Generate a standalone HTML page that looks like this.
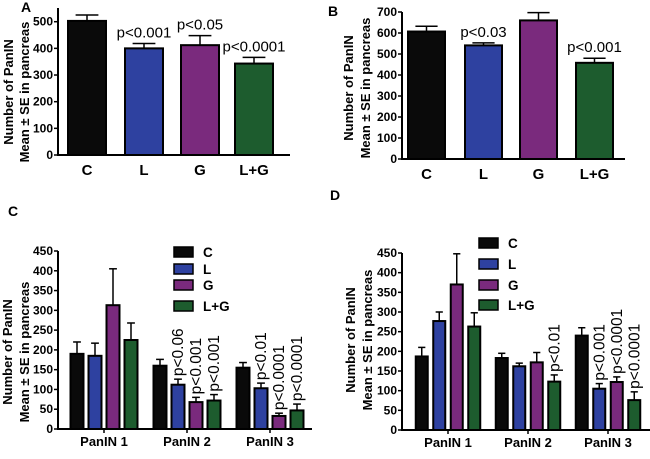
<!DOCTYPE html>
<html><head><meta charset="utf-8"><style>
body{margin:0;background:#fff;}
svg{display:block;font-family:"Liberation Sans",Arial,sans-serif;}
</style></head><body>
<svg id="fig" width="650" height="459"></svg>
<script>
const colors=["#0a0a0a","#2e41a0","#7a2a7d","#1d5c2e"];
const seriesNames=["C","L","G","L+G"];
// Panel A
const aCats=["C","L","G","L+G"];
const aMeans=[503,400,412,343];
const aErr=[525,418,448,366];
const aP=["","p<0.001","p<0.05","p<0.0001"];
const aTicks=[0,100,200,300,400,500];
// Panel B
const bCats=["C","L","G","L+G"];
const bMeans=[607,541,660,458];
const bErr=[632,553,697,480];
const bP=["","p<0.03","","p<0.001"];
const bTicks=[0,100,200,300,400,500,600,700];
// Panel C
const cGroups=["PanIN 1","PanIN 2","PanIN 3"];
const cMeans=[[190,185,313,225],[160,112,68,72],[155,103,33,47]];
const cErr=[[220,217,405,268],[176,126,80,87],[168,116,40,63]];
const cP=[["","","",""],["","p<0.06","p<0.001","p<0.001"],["","p<0.01","p<0.0001","p<0.0001"]];
// Panel D
const dGroups=["PanIN 1","PanIN 2","PanIN 3"];
const dMeans=[[187,277,370,263],[183,162,172,123],[240,105,122,76]];
const dErr=[[210,300,448,298],[195,170,197,140],[260,118,135,97]];
const dP=[["","","",""],["","","","p<0.01"],["","p<0.001","p<0.0001","p<0.0001"]];
const cdTicks=[0,50,100,150,200,250,300,350,400,450];

const svg=document.getElementById('fig');
const NS="http://www.w3.org/2000/svg";
function mk(tag,at,parent){const e=document.createElementNS(NS,tag);for(const k in at)e.setAttribute(k,at[k]);(parent||svg).appendChild(e);return e;}
function txt(s,at,parent){const e=mk('text',at,parent);e.textContent=s;return e;}

function axes(g,ax,y0,yTop,xEnd,yScale,ticks,tx1,tx2,ty){
  let a=mk('line',{x1:ax,y1:y0,x2:ax,y2:yTop,stroke:'#000','stroke-width':2},g);
  
  let b=mk('line',{x1:ax-1,y1:y0,x2:xEnd,y2:y0,stroke:'#000','stroke-width':2},g);
  
  ticks.forEach(t=>{const y=yScale(t);
    mk('line',{x1:ax-4,y1:y,x2:ax,y2:y,stroke:'#000','stroke-width':1.5},g);
    let l=txt(String(t),{x:ax-5,y:y+4,'text-anchor':'end','font-size':12,'font-weight':'bold'},g);
    
  });
  let t1=txt('Number of PanIN',{x:0,y:0,'text-anchor':'middle','font-size':13,'font-weight':'bold',transform:`translate(${tx1},${ty}) rotate(-90)`},g);
  
  let t2=txt('Mean \u00b1 SE in pancreas',{x:0,y:0,'text-anchor':'middle','font-size':13,'font-weight':'bold',transform:`translate(${tx2},${ty}) rotate(-90)`},g);
  
}
function bar(g,x,w,m,e,ys,col,y0){
  const ye=ys(e),ym=ys(m);
  mk('line',{x1:x+w/2,y1:ym,x2:x+w/2,y2:ye,stroke:'#000','stroke-width':1.5},g);
  mk('line',{x1:x+w/2-w*0.3,y1:ye,x2:x+w/2+w*0.3,y2:ye,stroke:'#000','stroke-width':1.5},g);
  let r=mk('rect',{x:x,y:ym,width:w,height:y0-ym,fill:col,stroke:'#000','stroke-width':2},g);
  
}
function simplePanel(name,letter,lx,ly,ax,y0,yTop,yMax,pxTop,xEnd,bx,bw,cats,means,errs,ps,ticks,tx1,tx2,ty){
  const g=mk('g',{});
  const ys=v=>y0-(y0-pxTop)*v/yMax;
  axes(g,ax,y0,yTop,xEnd,ys,ticks,tx1,tx2,ty);
  let L=txt(letter,{x:lx,y:ly,'font-size':14,'font-weight':'bold'},g);
  cats.forEach((c,i)=>{
    const x=bx[i];bar(g,x,bw,means[i],errs[i],ys,colors[i],y0);
    let cl=txt(c,{x:x+bw/2,y:y0+20,'text-anchor':'middle','font-size':15,'font-weight':'bold'},g);
    
    if(ps[i]){let p=txt(ps[i],{x:x+bw/2,y:ys(errs[i])-6,'text-anchor':'middle','font-size':15},g);
      }
  });
}
simplePanel('panel-a','A',21,12,58,155,8,500,21.7,290,[68,125,181,235],38,aCats,aMeans,aErr,aP,aTicks,13,29,92);
simplePanel('panel-b','B',328,16,402,159,12,700,12,625,[408,465,520,576],37,bCats,bMeans,bErr,bP,bTicks,353,370,88);

function groupPanel(name,letter,lx,ly,ax,y0,yTop,xEnd,c0,gp,bp,bw,groups,means,errs,ps,legX,legY,tx1,tx2,ty){
  const g=mk('g',{});
  const pxTop=yTop;const ys=v=>y0-(y0-pxTop)*v/450;
  axes(g,ax,y0,yTop,xEnd,ys,cdTicks,tx1,tx2,ty);
  let L=txt(letter,{x:lx,y:ly,'font-size':14,'font-weight':'bold'},g);
  groups.forEach((gn,gi)=>{
    const cx=c0+gi*gp;
    mk('line',{x1:cx,y1:y0,x2:cx,y2:y0+4,stroke:'#000','stroke-width':1.5},g);
    let gl=txt(gn,{x:cx,y:y0+17,'text-anchor':'middle','font-size':13,'font-weight':'bold'},g);
    
    for(let s=0;s<4;s++){
      const x=cx+(s-1.5)*bp-bw/2;
      bar(g,x,bw,means[gi][s],errs[gi][s],ys,colors[s],y0);
      if(ps[gi][s]){const yy=ys(errs[gi][s])-3;
        let p=txt(ps[gi][s],{x:0,y:0,'font-size':15.5,transform:`translate(${x+bw/2+5},${yy}) rotate(-90)`},g);
        }
    }
  });
  seriesNames.forEach((n,i)=>{
    let r=mk('rect',{x:legX,y:legY[i]-5,width:19,height:10,fill:colors[i],stroke:'#000','stroke-width':1.5},g);
    
    let t=txt(n,{x:legX+29,y:legY[i]+5,'font-size':13.5,'font-weight':'bold'},g);
    
  });
}
groupPanel('panel-c','C',8,216,58,429,251,312,104,83,18,13,cGroups,cMeans,cErr,cP,174,[252,269,285,306],12,29,352);
groupPanel('panel-d','D',330,200,402,430,253,650,448,80,17.5,12,dGroups,dMeans,dErr,dP,479,[243,264,285,305],355,372,340);
</script>
</body></html>
